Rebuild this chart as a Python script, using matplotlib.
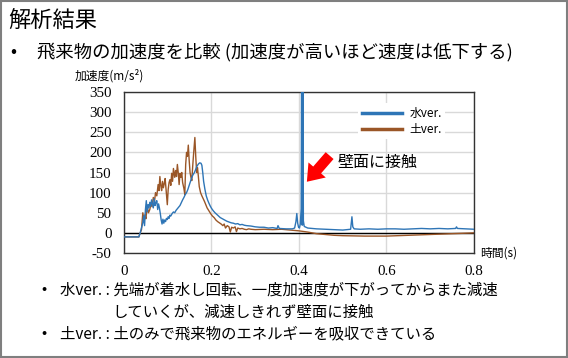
import matplotlib
matplotlib.use("Agg")
import matplotlib.pyplot as plt
from matplotlib.patches import Rectangle

plt.rcParams['font.family'] = ['Noto Sans CJK JP', 'DejaVu Sans']
plt.rcParams['axes.unicode_minus'] = False

# 土ver. (時間[s], 加速度[m/s^2])
soil_t = [0.000, 0.034, 0.037, 0.040, 0.043, 0.046, 0.048, 0.050, 0.053, 0.056,
          0.059, 0.062, 0.064, 0.067, 0.070, 0.072, 0.075, 0.078, 0.080, 0.082,
          0.084, 0.086, 0.088, 0.090, 0.092, 0.094, 0.096, 0.099, 0.101, 0.103,
          0.105, 0.107, 0.109, 0.111, 0.113, 0.116, 0.118, 0.120, 0.122, 0.124,
          0.126, 0.128, 0.130, 0.132, 0.134, 0.137, 0.139, 0.141, 0.143, 0.145,
          0.147, 0.149, 0.151, 0.153, 0.155, 0.157, 0.159, 0.162, 0.164, 0.166,
          0.168, 0.170, 0.172, 0.175, 0.178, 0.181, 0.184, 0.187, 0.190, 0.194,
          0.198, 0.202, 0.206, 0.210, 0.214, 0.218, 0.222, 0.226, 0.229, 0.232,
          0.236, 0.240, 0.243, 0.246, 0.250, 0.254, 0.257, 0.260, 0.265, 0.270,
          0.275, 0.280, 0.285, 0.290, 0.300, 0.320, 0.340, 0.360, 0.380, 0.400,
          0.420, 0.440, 0.460, 0.480, 0.500, 0.550, 0.600, 0.650, 0.700, 0.750,
          0.800]
soil_a = [-10, -10, 0, 8, 50, 30, 45, 35, 65, 50,
          58, 75, 65, 88, 80, 100, 92, 120, 105, 140,
          118, 105, 128, 112, 122, 135, 110, 70, 108, 125,
          132, 118, 148, 128, 160, 138, 155, 140, 170, 150,
          120, 148, 138, 150, 125, 110, 95, 170, 200, 190,
          218, 180, 150, 138, 130, 165, 195, 237, 190, 150,
          162, 140, 115, 100, 92, 85, 78, 70, 62, 55,
          48, 42, 38, 32, 28, 25, 22, 18, 22, 12,
          18, 15, 2, 14, 12, 15, 3, 12, 10, 11,
          9, 8, 10, 9, 8, 9, 8, 9, 7, 5,
          2, -2, -4, -6, -7, -8, -8, -6, -4, -2,
          0]

# 水ver.
water_t = [0.000, 0.034, 0.037, 0.040, 0.043, 0.045, 0.047, 0.049, 0.051, 0.053,
           0.055, 0.057, 0.059, 0.061, 0.063, 0.065, 0.067, 0.069, 0.071, 0.073,
           0.075, 0.077, 0.079, 0.081, 0.083, 0.085, 0.087, 0.089, 0.091, 0.093,
           0.095, 0.097, 0.099, 0.101, 0.103, 0.105, 0.107, 0.110, 0.113, 0.116,
           0.119, 0.122, 0.125, 0.128, 0.131, 0.134, 0.137, 0.140, 0.143, 0.146,
           0.149, 0.152, 0.155, 0.158, 0.161, 0.164, 0.167, 0.170, 0.173, 0.176,
           0.178, 0.180, 0.182, 0.185, 0.188, 0.191, 0.194, 0.197, 0.200, 0.204,
           0.208, 0.212, 0.216, 0.220, 0.225, 0.230, 0.235, 0.240, 0.245, 0.250,
           0.255, 0.260, 0.265, 0.270, 0.275, 0.280, 0.290, 0.300, 0.310, 0.320,
           0.330, 0.340, 0.350, 0.352, 0.355, 0.370, 0.385, 0.390, 0.393, 0.395,
           0.397, 0.399, 0.401, 0.403, 0.405, 0.406, 0.4065, 0.407, 0.4075, 0.408,
           0.4085, 0.409, 0.410, 0.412, 0.416, 0.420, 0.440, 0.460, 0.480, 0.500,
           0.510, 0.518, 0.521, 0.523, 0.526, 0.540, 0.560, 0.580, 0.600, 0.620,
           0.640, 0.660, 0.680, 0.700, 0.720, 0.740, 0.758, 0.760, 0.762, 0.780,
           0.800]
water_a = [-10, -10, 0, 12, 25, 42, 18, 58, 80, 52,
           70, 62, 76, 66, 82, 72, 62, 85, 68, 76,
           80, 58, 72, 62, 48, 32, 22, 34, 24, 32,
           28, 36, 33, 40, 36, 44, 42, 48, 52, 50,
           56, 60, 64, 68, 75, 82, 88, 95, 100, 108,
           118, 128, 138, 145, 150, 158, 166, 171, 174, 173,
           168, 150, 128, 108, 92, 82, 74, 67, 61, 55,
           50, 46, 42, 38, 35, 32, 29, 27, 25, 24,
           22, 23, 20, 21, 19, 18, 17, 15, 14, 14,
           12, 13, 11, 18, 11, 10, 10, 12, 28, 48,
           24, 14, 12, 22, 60, 400, 20, 400, 20, 400,
           20, 400, 30, 16, 14, 12, 10, 9, 8, 7,
           8, 9, 40, 15, 10, 9, 10, 9, 10, 10,
           9, 10, 11, 10, 11, 10, 11, 15, 11, 10,
           9]

x_ticks = [0, 0.2, 0.4, 0.6, 0.8]
x_labels = ["0", "0.2", "0.4", "0.6", "0.8"]
y_ticks = [-50, 0, 50, 100, 150, 200, 250, 300, 350]

fig = plt.figure(figsize=(5.68, 3.58), dpi=100)
fig.patches.append(Rectangle((0.002, 0.003), 0.996, 0.994, transform=fig.transFigure,
                             fill=False, edgecolor="#7f7f7f", linewidth=1.5))

ax = fig.add_axes([0.2183, 0.2933, 0.6162, 0.4497])
ax.plot(water_t, water_a, color="#2e75b6", lw=1.0, label="水ver.", zorder=3)
ax.plot(soil_t, soil_a, color="#9a5627", lw=1.0, label="土ver.", zorder=2)
ax.axhline(0, color="black", lw=1.0, zorder=1.5)

ax.set_xlim(0, 0.8)
ax.set_ylim(-50, 350)
ax.tick_params(length=0, pad=9, labelsize=10.8, labelfontfamily="Liberation Serif")
ax.set_xticks(x_ticks)
ax.set_xticklabels(x_labels)
ax.set_yticks(y_ticks)
ax.set_yticklabels([str(v) for v in y_ticks])
ax.grid(True, color="#d9d9d9", lw=1.0, zorder=0)
ax.set_axisbelow(True)
for s in ax.spines.values():
    s.set_color("#333333")
    s.set_linewidth(1.0)

leg = ax.legend(loc="upper left", bbox_to_anchor=(0.67, 0.93), frameon=True,
                fontsize=8.5, handlelength=3.4, handletextpad=0.6,
                labelspacing=0.25, borderpad=0.3, borderaxespad=0)
leg.get_frame().set_edgecolor("none")
leg.get_frame().set_facecolor("white")
leg.get_frame().set_alpha(1)
for ln in leg.get_lines():
    ln.set_linewidth(2.5)

ax.annotate("", xy=(0.418, 127), xytext=(0.470, 192),
            arrowprops=dict(arrowstyle="simple,head_length=0.75,head_width=1.1,tail_width=0.5",
                            mutation_scale=15, shrinkA=0, shrinkB=0,
                            color="#ff0000", lw=0), zorder=5)
ax.text(0.489, 174, "壁面に接触", fontsize=11.5, va="center", ha="left")

fig.text(0.131, 0.787, "加速度(m/s²)", fontsize=8.5, va="center", ha="left")
fig.text(0.845, 0.293, "時間(s)", fontsize=8.5, va="center", ha="left")

fig.text(0.014, 0.944, "解析結果", fontsize=16, va="center", ha="left")
fig.text(0.018, 0.855, "•", fontsize=13, va="center", ha="left")
fig.text(0.066, 0.855, "飛来物の加速度を比較 (加速度が高いほど速度は低下する)",
         fontsize=13.2, va="center", ha="left")

fig.text(0.072, 0.19, "•", fontsize=11, va="center", ha="left")
fig.text(0.106, 0.19, "水ver. : 先端が着水し回転、一度加速度が下がってからまた減速",
         fontsize=11.1, va="center", ha="left")
fig.text(0.197, 0.128, "していくが、減速しきれず壁面に接触",
         fontsize=11.1, va="center", ha="left")
fig.text(0.072, 0.068, "•", fontsize=11, va="center", ha="left")
fig.text(0.106, 0.068, "土ver. : 土のみで飛来物のエネルギーを吸収できている",
         fontsize=11.1, va="center", ha="left")

fig.savefig("out.png", dpi=100)
